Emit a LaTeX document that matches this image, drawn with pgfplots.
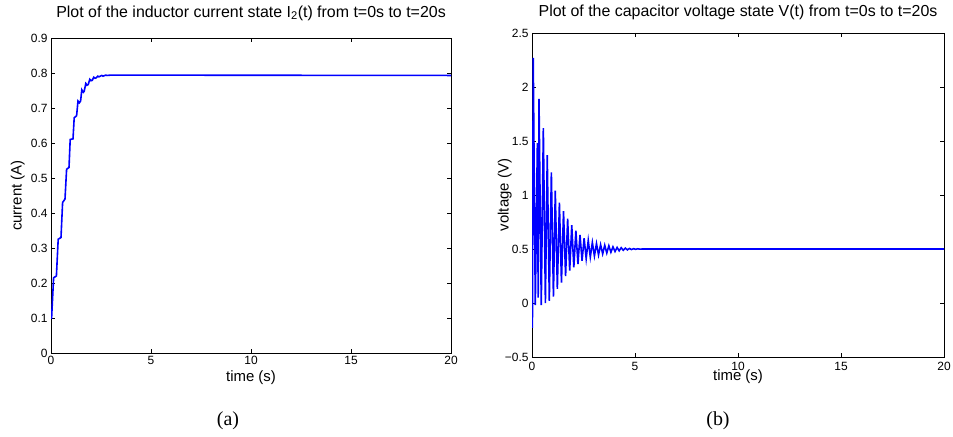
\documentclass[border=0pt]{standalone}
\usepackage{fontspec}
\setmainfont{Liberation Sans}
\newfontfamily\capfont{Liberation Serif}
\usepackage{pgfplots}
\pgfplotsset{compat=1.18}
\begin{document}
\begin{tikzpicture}
\useasboundingbox (0bp,0bp) rectangle (953bp,437bp);
\pgfplotsset{mystyle/.style={
  scale only axis,
  axis line style={line width=0.8bp},
  tick style={black, line width=0.6bp},
  tick align=inside,
  major tick length=4bp,
  xmin=0, xmax=20,
  xtick={0,5,10,15,20},
  xticklabels={0,5,10,15,20},
  tick label style={font=\fontsize{12}{13}\selectfont},
  label style={font=\fontsize{15}{16}\selectfont},
  /pgf/number format/assume math mode=true,
}}
\begin{axis}[mystyle,
  at={(51bp,84bp)}, anchor=south west,
  width=400bp, height=315bp,
  ymin=0, ymax=0.9,
  ytick={0,0.1,0.2,0.3,0.4,0.5,0.6,0.7,0.8,0.9},
  yticklabels={0,0.1,0.2,0.3,0.4,0.5,0.6,0.7,0.8,0.9},
  xlabel={time (s)},
  xlabel style={at={(axis description cs:0.5,-0.079)}, anchor=center},
  ylabel={current (A)},
  ylabel style={at={(axis description cs:-0.083,0.5)}, anchor=center},
]
\addplot[blue, line width=1.6bp, no marks] coordinates {
(0,0.10) (0.03,0.10) (0.13,0.215) (0.27,0.22) (0.36,0.325) (0.50,0.33)
(0.58,0.43) (0.70,0.44) (0.78,0.525) (0.90,0.53) (0.96,0.61) (1.10,0.612)
(1.16,0.672) (1.28,0.678) (1.35,0.72) (1.42,0.715) (1.48,0.72) (1.54,0.752)
(1.62,0.745) (1.66,0.748) (1.74,0.77) (1.80,0.765) (1.86,0.767) (1.94,0.782)
(2.00,0.778) (2.06,0.779) (2.14,0.788) (2.20,0.785) (2.26,0.786) (2.34,0.791)
(2.40,0.789) (2.54,0.793) (2.60,0.791) (2.74,0.794) (2.80,0.793) (3.00,0.794)
(20,0.793)
};
\end{axis}
\begin{axis}[mystyle,
  at={(532bp,80bp)}, anchor=south west,
  width=412bp, height=324bp,
  ymin=-0.5, ymax=2.5,
  ytick={-0.5,0,0.5,1,1.5,2,2.5},
  yticklabels={\textminus0.5,0,0.5,1,1.5,2,2.5},
  xticklabel style={yshift=-2bp},
  xlabel={time (s)},
  xlabel style={at={(axis description cs:0.5,-0.062)}, anchor=center},
  ylabel={voltage (V)},
  ylabel style={at={(axis description cs:-0.066,0.5)}, anchor=center},
]
\addplot[blue, line width=1.6bp, no marks] coordinates {
(0.00,0.0) (0.02,-0.23) (0.06,2.27) (0.16,-0.02) (0.26,1.48) (0.30,0.05)
(0.34,1.89) (0.45,-0.02) (0.55,1.62) (0.65,0.0) (0.74,1.37) (0.84,0.02)
(0.94,1.21) (1.04,0.06) (1.13,1.04) (1.23,0.13) (1.33,0.93) (1.43,0.19)
(1.53,0.85) (1.63,0.25) (1.73,0.78) (1.83,0.30) (1.93,0.72) (2.03,0.33)
(2.13,0.67) (2.23,0.36) (2.33,0.63) (2.43,0.39) (2.53,0.60) (2.63,0.41)
(2.73,0.58) (2.83,0.425) (2.93,0.56) (3.03,0.435) (3.13,0.55) (3.23,0.445)
(3.33,0.54) (3.43,0.455) (3.53,0.535) (3.63,0.463) (3.73,0.53) (3.83,0.47)
(3.93,0.52) (4.03,0.477) (4.13,0.515) (4.23,0.483) (4.33,0.512) (4.43,0.488)
(4.53,0.508) (4.63,0.492) (4.73,0.505) (4.83,0.495) (4.93,0.503) (5.03,0.497)
(5.13,0.502) (5.23,0.499) (5.40,0.5) (20,0.5)
};
\end{axis}
\node[font=\fontsize{16}{17}\selectfont] at (251bp,424bp) {Plot of the inductor current state I\textsubscript{2}(t) from t=0s to t=20s};
\node[font=\fontsize{16}{17}\selectfont] at (738bp,425bp) {Plot of the capacitor voltage state V(t) from t=0s to t=20s};
\node[font=\capfont\fontsize{20}{22}\selectfont] at (228bp,16bp) {(a)};
\node[font=\capfont\fontsize{20}{22}\selectfont] at (718bp,16bp) {(b)};
\end{tikzpicture}
\end{document}
